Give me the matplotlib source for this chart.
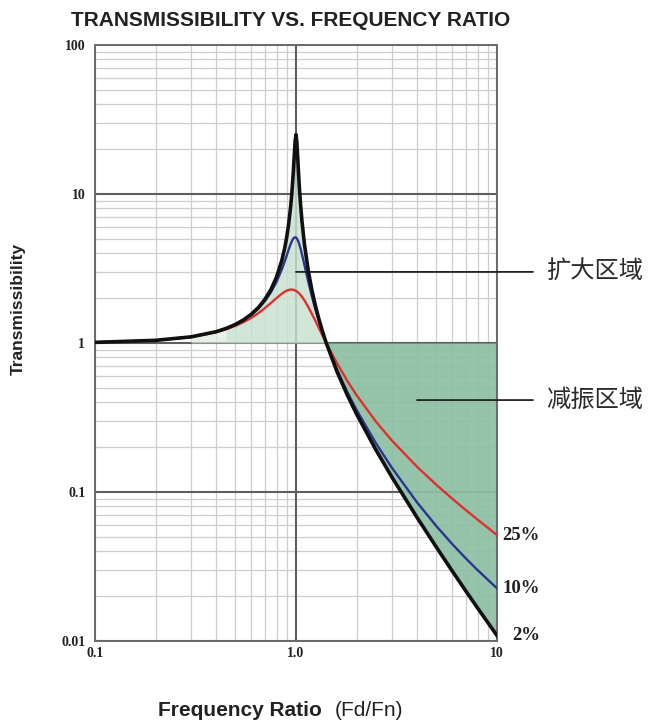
import matplotlib
matplotlib.use("Agg")
import matplotlib.pyplot as plt
from matplotlib.ticker import LogLocator, NullFormatter

# ---- data ----
ratio = [0.1, 0.2, 0.3, 0.4, 0.45, 0.5, 0.55, 0.6, 0.65, 0.7, 0.75, 0.8, 0.85, 0.88,
         0.9, 0.92, 0.94, 0.95, 0.96, 0.97, 0.98, 0.99, 1.0, 1.01, 1.02, 1.03, 1.04,
         1.05, 1.07, 1.1, 1.15, 1.2, 1.25, 1.3, 1.35, 1.414, 1.6, 1.8, 2.0, 2.5, 3.0,
         4.0, 5.0, 6.0, 7.0, 8.0, 10.0]
damp_2 = [1.010, 1.042, 1.099, 1.190, 1.254, 1.333, 1.433, 1.563, 1.730, 1.961, 2.281,
          2.768, 3.578, 4.382, 5.174, 6.336, 8.182, 9.563, 11.47, 14.16, 17.96, 22.58,
          25.02, 22.18, 17.43, 13.61, 10.93, 9.036, 6.625, 4.667, 3.073, 2.262, 1.773,
          1.447, 1.215, 1.0, 0.6418, 0.4474, 0.3343, 0.1914, 0.1259, 0.0675, 0.0425,
          0.02938, 0.02163, 0.01667, 0.01088]
damp_10 = [1.010, 1.042, 1.099, 1.189, 1.251, 1.328, 1.425, 1.547, 1.704, 1.909, 2.186,
           2.571, 3.117, 3.549, 3.882, 4.242, 4.602, 4.767, 4.910, 5.023, 5.095, 5.123,
           5.099, 5.026, 4.907, 4.753, 4.572, 4.373, 3.957, 3.367, 2.591, 2.052, 1.675,
           1.401, 1.197, 1.0, 0.6593, 0.4685, 0.3559, 0.2120, 0.1454, 0.08525, 0.05888,
           0.04460, 0.03583, 0.02994, 0.02258]
damp_25 = [1.010, 1.041, 1.096, 1.181, 1.237, 1.304, 1.383, 1.477, 1.587, 1.713, 1.854,
           2.001, 2.141, 2.210, 2.245, 2.270, 2.282, 2.283, 2.281, 2.275, 2.265, 2.252,
           2.236, 2.217, 2.194, 2.169, 2.141, 2.112, 2.046, 1.939, 1.750, 1.567, 1.403,
           1.258, 1.134, 1.0, 0.7305, 0.5573, 0.4472, 0.2966, 0.2215, 0.1478, 0.1116,
           0.0900, 0.07563, 0.06531, 0.05144]
series_labels = ["2%", "10%", "25%"]
x_ticks = [0.1, 1.0, 10]
x_ticklabels = ["0.1", "1.0", "10"]
y_ticks = [0.01, 0.1, 1, 10, 100]
y_ticklabels = ["0.01", "0.1", "1", "10", "100"]
zone_labels = ["扩大区域", "减振区域"]
zone_points = [(1.0, 3.0), (4.0, 0.414)]

W, H = 650, 723
fig = plt.figure(figsize=(W / 100, H / 100), dpi=100)
L, R, T, B = 95, 497, 45, 641
ax = fig.add_axes([L / W, 1 - B / H, (R - L) / W, (B - T) / H])
ax.set_xscale("log")
ax.set_yscale("log")
ax.set_xlim(0.1, 10)
ax.set_ylim(0.01, 100)

# fills: amplification zone (light) and isolation zone (darker green)
faint = [0.25 <= r <= 0.45 for r in ratio]
amp = [0.45 <= r <= 1.414 for r in ratio]
iso = [r >= 1.414 for r in ratio]
ax.fill_between(ratio, 1, damp_2, where=faint, color="#dcebe1", alpha=0.7, zorder=1, lw=0)
ax.fill_between(ratio, 1, damp_2, where=amp, color="#c8e1d0", alpha=0.82, zorder=1, lw=0)
ax.fill_between(ratio, 1, damp_2, where=iso, color="#8cbfa3", alpha=0.92, zorder=1, lw=0)

# grid: light minor lines, darker decade lines
ax.set_axisbelow(True)
ax.xaxis.set_minor_locator(LogLocator(base=10, subs=range(2, 10)))
ax.yaxis.set_minor_locator(LogLocator(base=10, subs=range(2, 10)))
ax.xaxis.set_minor_formatter(NullFormatter())
ax.yaxis.set_minor_formatter(NullFormatter())
ax.grid(which="minor", color="#cdcdcd", lw=0.9)
for xv in x_ticks:
    ax.axvline(xv, color="#5e5e5e", lw=1.5, zorder=0.9)
for yv in y_ticks:
    ax.axhline(yv, color="#5e5e5e", lw=1.5, zorder=0.9)

# curves
ax.plot(ratio, damp_25, color="#e0302e", lw=1.7, zorder=3)
ax.plot(ratio, damp_10, color="#2b3591", lw=1.7, zorder=3)
ax.plot(ratio, damp_2, color="#111111", lw=2.6, zorder=4)

for s in ax.spines.values():
    s.set_color("#6a6a6a")
    s.set_linewidth(1.4)

serif = {"family": "Liberation Serif", "weight": "bold"}
ax.set_xticks(x_ticks)
ax.set_xticklabels(x_ticklabels, fontdict=serif, fontsize=10)
ax.set_yticks(y_ticks)
ax.set_yticklabels(y_ticklabels, fontdict=serif, fontsize=10)
ax.tick_params(which="both", length=0, colors="#222222")
ax.tick_params(axis="y", pad=7)
ax.tick_params(axis="x", pad=4)

# series end labels
ends = [damp_2[-1], damp_10[-1], damp_25[-1]]
for lab, v in zip(series_labels, ends):
    ax.text(1.107, v, lab, transform=ax.get_yaxis_transform(), ha="right", va="center",
            fontsize=13.5, color="#222222", clip_on=False, **serif)

# zone annotations
cjk = ["Noto Sans CJK SC", "DejaVu Sans"]
for lab, (zx, zy) in zip(zone_labels, zone_points):
    ax.annotate("", xy=(zx, zy), xycoords="data", xytext=(533 / W, zy),
                textcoords=("figure fraction", "data"),
                arrowprops=dict(arrowstyle="-", color="#222222", lw=1.3,
                                shrinkA=0, shrinkB=0))
    ax.annotate(lab, xy=(546 / W, zy), xycoords=("figure fraction", "data"),
                fontsize=17.5, color="#2a2a2a", ha="left", va="center", family=cjk,
                annotation_clip=False)

# titles
fig.text(291 / W, 1 - 20 / H, "TRANSMISSIBILITY VS. FREQUENCY RATIO", family="Liberation Sans",
         weight="bold", fontsize=15, color="#222222", ha="center", va="center")
fig.text(18 / W, 1 - 309 / H, "Transmissibility", family="Liberation Sans", weight="bold",
         fontsize=12.5, color="#222222", rotation=90, ha="center", va="center")
fig.text(158 / W, 1 - 711 / H, "Frequency Ratio", family="Liberation Sans", weight="bold",
         fontsize=15, color="#222222", ha="left", va="center")
fig.text(335 / W, 1 - 711 / H, "(Fd/Fn)", family="Liberation Sans",
         fontsize=15, color="#222222", ha="left", va="center")

fig.savefig("out.png", dpi=100)
